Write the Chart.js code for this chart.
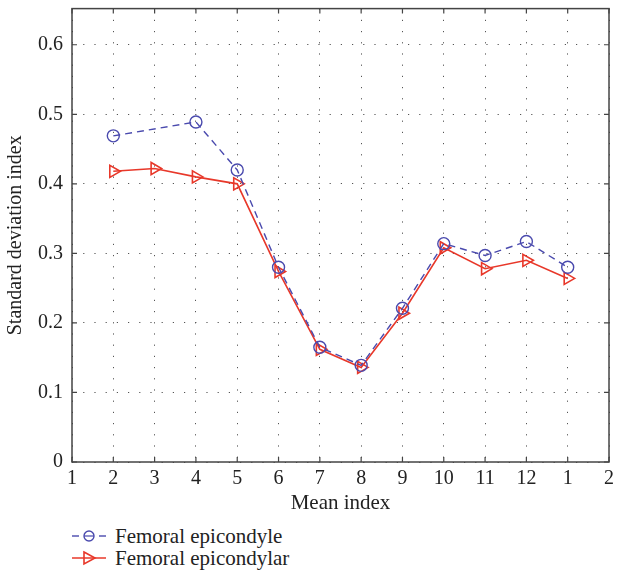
<!DOCTYPE html>
<html lang="en">
<head>
    <meta charset="UTF-8" />
    <title>Standard deviation index vs mean index</title>
    <script src="https://cdn.jsdelivr.net/npm/chart.js"></script>
    <style>
        body { margin: 0; background: #fff; }
        #wrap { position: relative; width: 619px; height: 520px; }
        .legend { position: absolute; left: 71px; top: 525px; font-family: "Liberation Serif", "DejaVu Serif", serif; font-size: 21px; color: #222; }
        .legend div { height: 22px; display: flex; align-items: center; }
        .legend svg { margin-right: 8px; }
    </style>
</head>
<body>
    <div id="wrap"><canvas id="chart" width="619" height="520"></canvas></div>
    <div class="legend">
        <div><svg width="36" height="20"><line x1="1" y1="10" x2="8" y2="10" stroke="#4a4aae" stroke-width="1.4"/><line x1="28" y1="10" x2="35" y2="10" stroke="#4a4aae" stroke-width="1.4"/><line x1="13" y1="10" x2="23" y2="10" stroke="#4a4aae" stroke-width="1.2"/><circle cx="18" cy="10" r="5" fill="none" stroke="#4a4aae" stroke-width="1.4"/></svg>Femoral epicondyle</div>
        <div><svg width="36" height="20"><line x1="1" y1="10" x2="35" y2="10" stroke="#e8382a" stroke-width="1.6"/><polygon points="13,4 24,10 13,16" fill="none" stroke="#e8382a" stroke-width="1.6"/></svg>Femoral epicondylar</div>
    </div>

    <script>
        // x tick labels (months, wrapping round)
        const tickLabels = ['1', '2', '3', '4', '5', '6', '7', '8', '9', '10', '11', '12', '1', '2'];
        // values, one per tick position (null = no point)
        const epicondyle = [null, 0.469, null, 0.489, 0.420, 0.280, 0.165, 0.139, 0.221, 0.314, 0.297, 0.317, 0.280, null];
        const epicondylar = [null, 0.418, 0.422, 0.410, 0.400, 0.274, 0.162, 0.136, 0.214, 0.308, 0.278, 0.290, 0.264, null];
        const yTicks = [0, 0.1, 0.2, 0.3, 0.4, 0.5, 0.6];

        const fontFam = '"Liberation Serif", "DejaVu Serif", serif';
        const axisColor = '#444';
        const dots = [1.2, 10];

        // frame + inward tick marks, like the original plot
        const framePlugin = {
            id: 'frame',
            afterDraw(chart) {
                const { ctx, chartArea: a, scales } = chart;
                ctx.save();
                ctx.strokeStyle = axisColor;
                ctx.lineWidth = 1.5;
                ctx.strokeRect(a.left, a.top, a.right - a.left, a.bottom - a.top);
                ctx.lineWidth = 1.2;
                scales.x.ticks.forEach((t, i) => {
                    const px = scales.x.getPixelForTick(i);
                    ctx.beginPath();
                    ctx.moveTo(px, a.bottom); ctx.lineTo(px, a.bottom - 5);
                    ctx.moveTo(px, a.top); ctx.lineTo(px, a.top + 5);
                    ctx.stroke();
                });
                scales.y.ticks.forEach(t => {
                    const py = scales.y.getPixelForValue(t.value);
                    ctx.beginPath();
                    ctx.moveTo(a.left, py); ctx.lineTo(a.left + 5, py);
                    ctx.moveTo(a.right, py); ctx.lineTo(a.right - 5, py);
                    ctx.stroke();
                });
                ctx.restore();
            }
        };

        new Chart(document.getElementById('chart'), {
            type: 'line',
            data: {
                labels: tickLabels,
                datasets: [
                    {
                        label: 'Femoral epicondyle',
                        data: epicondyle,
                        borderColor: '#4a4aae',
                        borderWidth: 1.4,
                        borderDash: [7, 5],
                        pointStyle: 'circle',
                        pointRadius: 6,
                        pointBorderWidth: 1.4,
                        pointBackgroundColor: 'rgba(0,0,0,0)',
                        pointBorderColor: '#4a4aae',
                        spanGaps: true,
                        tension: 0
                    },
                    {
                        label: 'Femoral epicondylar',
                        data: epicondylar,
                        borderColor: '#e8382a',
                        borderWidth: 1.6,
                        pointStyle: 'triangle',
                        rotation: 90,
                        pointRadius: 7,
                        pointBorderWidth: 1.6,
                        pointBackgroundColor: 'rgba(0,0,0,0)',
                        pointBorderColor: '#e8382a',
                        tension: 0
                    }
                ]
            },
            options: {
                responsive: false,
                animation: false,
                layout: { padding: { top: 7, right: 9, left: 0, bottom: 0 } },
                plugins: { legend: { display: false }, tooltip: { enabled: false } },
                scales: {
                    x: {
                        type: 'category',
                        offset: false,
                        grid: { color: '#555', lineWidth: 1, drawTicks: false },
                        border: { display: false, dash: dots },
                        ticks: { color: '#222', font: { family: fontFam, size: 20 }, padding: 5, maxRotation: 0, autoSkip: false },
                        title: { display: true, text: 'Mean index', color: '#222', font: { family: fontFam, size: 21 }, padding: { top: 0 } },
                        afterFit(s) { s.height = 58; }
                    },
                    y: {
                        min: 0,
                        max: 0.652,
                        afterBuildTicks(s) {
                            s.ticks = yTicks.map(v => ({ value: v }));
                        },
                        grid: { color: '#555', lineWidth: 1, drawTicks: false },
                        border: { display: false, dash: dots },
                        ticks: {
                            color: '#222',
                            font: { family: fontFam, size: 20 },
                            padding: 9,
                            callback: v => String(Math.round(v * 10) / 10)
                        },
                        title: { display: true, text: 'Standard deviation index', color: '#222', font: { family: fontFam, size: 20 }, padding: { bottom: 0 } },
                        afterFit(s) { s.width = 72; s.paddingTop = 0; }
                    }
                }
            },
            plugins: [framePlugin]
        });
    </script>
</body>
</html>
